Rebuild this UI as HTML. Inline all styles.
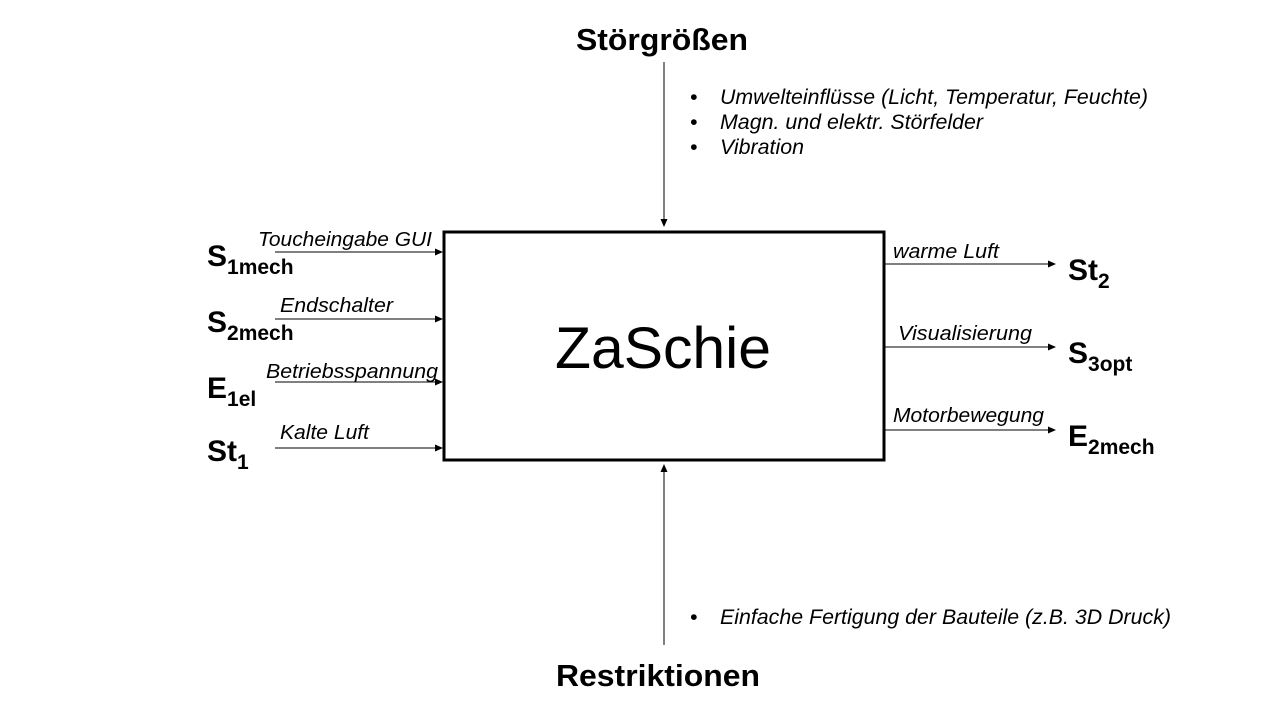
<!DOCTYPE html>
<html><head><meta charset="utf-8"><style>
html,body{margin:0;padding:0;background:#fff;}
svg{display:block;}
text{font-family:"Liberation Sans",Arial,sans-serif;fill:#000;}
.big{font-size:30px;font-weight:bold;}
.sub{font-size:21px;font-weight:bold;}
.lbl{font-size:20px;font-style:italic;}
.bul{font-size:21px;font-style:italic;}
</style></head><body>
<svg width="1280" height="720" viewBox="0 0 1280 720">
<defs><marker id="a" markerWidth="8" markerHeight="8" refX="7" refY="4" orient="auto" markerUnits="userSpaceOnUse"><path d="M0,0.5 L8,4 L0,7.5 Z" fill="#000"/></marker></defs>
<rect x="444" y="232" width="440" height="228" fill="none" stroke="#000" stroke-width="3"/>
<text x="555" y="368" font-size="58" textLength="216" lengthAdjust="spacingAndGlyphs">ZaSchie</text>
<text x="576" y="50" font-size="31" font-weight="bold" textLength="172" lengthAdjust="spacingAndGlyphs">Störgrößen</text>
<text x="556" y="686" font-size="31" font-weight="bold" textLength="204" lengthAdjust="spacingAndGlyphs">Restriktionen</text>
<line x1="664" y1="62" x2="664" y2="226" stroke="#000" stroke-width="1" marker-end="url(#a)"/>
<line x1="664" y1="645" x2="664" y2="465" stroke="#000" stroke-width="1" marker-end="url(#a)"/>
<g class="bul">
<text x="690" y="104">•</text><text x="720" y="104" textLength="428" lengthAdjust="spacingAndGlyphs">Umwelteinflüsse (Licht, Temperatur, Feuchte)</text>
<text x="690" y="129">•</text><text x="720" y="129" textLength="263" lengthAdjust="spacingAndGlyphs">Magn. und elektr. Störfelder</text>
<text x="690" y="154">•</text><text x="720" y="154" textLength="84" lengthAdjust="spacingAndGlyphs">Vibration</text>
<text x="690" y="624">•</text><text x="720" y="624" textLength="451" lengthAdjust="spacingAndGlyphs">Einfache Fertigung der Bauteile (z.B. 3D Druck)</text>
</g>
<g stroke="#000" stroke-width="1">
<line x1="275" y1="252" x2="442" y2="252" marker-end="url(#a)"/>
<line x1="275" y1="319" x2="442" y2="319" marker-end="url(#a)"/>
<line x1="275" y1="382" x2="442" y2="382" marker-end="url(#a)"/>
<line x1="275" y1="448" x2="442" y2="448" marker-end="url(#a)"/>
<line x1="885" y1="264" x2="1055" y2="264" marker-end="url(#a)"/>
<line x1="885" y1="347" x2="1055" y2="347" marker-end="url(#a)"/>
<line x1="885" y1="430" x2="1055" y2="430" marker-end="url(#a)"/>
</g>
<g class="lbl">
<text x="258" y="246" textLength="174" lengthAdjust="spacingAndGlyphs">Toucheingabe GUI</text>
<text x="280" y="312" textLength="113" lengthAdjust="spacingAndGlyphs">Endschalter</text>
<text x="266" y="378" textLength="172" lengthAdjust="spacingAndGlyphs">Betriebsspannung</text>
<text x="280" y="439" textLength="89" lengthAdjust="spacingAndGlyphs">Kalte Luft</text>
<text x="893" y="258" textLength="106" lengthAdjust="spacingAndGlyphs">warme  Luft</text>
<text x="898" y="340" textLength="134" lengthAdjust="spacingAndGlyphs">Visualisierung</text>
<text x="893" y="422" textLength="151" lengthAdjust="spacingAndGlyphs">Motorbewegung</text>
</g>
<text x="207" y="266" class="big">S<tspan class="sub" dy="8">1mech</tspan></text>
<text x="207" y="332" class="big">S<tspan class="sub" dy="8">2mech</tspan></text>
<text x="207" y="398" class="big">E<tspan class="sub" dy="8">1el</tspan></text>
<text x="207" y="461" class="big">St<tspan class="sub" dy="8">1</tspan></text>
<text x="1068" y="280" class="big">St<tspan class="sub" dy="8">2</tspan></text>
<text x="1068" y="363" class="big">S<tspan class="sub" dy="8">3opt</tspan></text>
<text x="1068" y="446" class="big">E<tspan class="sub" dy="8">2mech</tspan></text>
</svg>
</body></html>
